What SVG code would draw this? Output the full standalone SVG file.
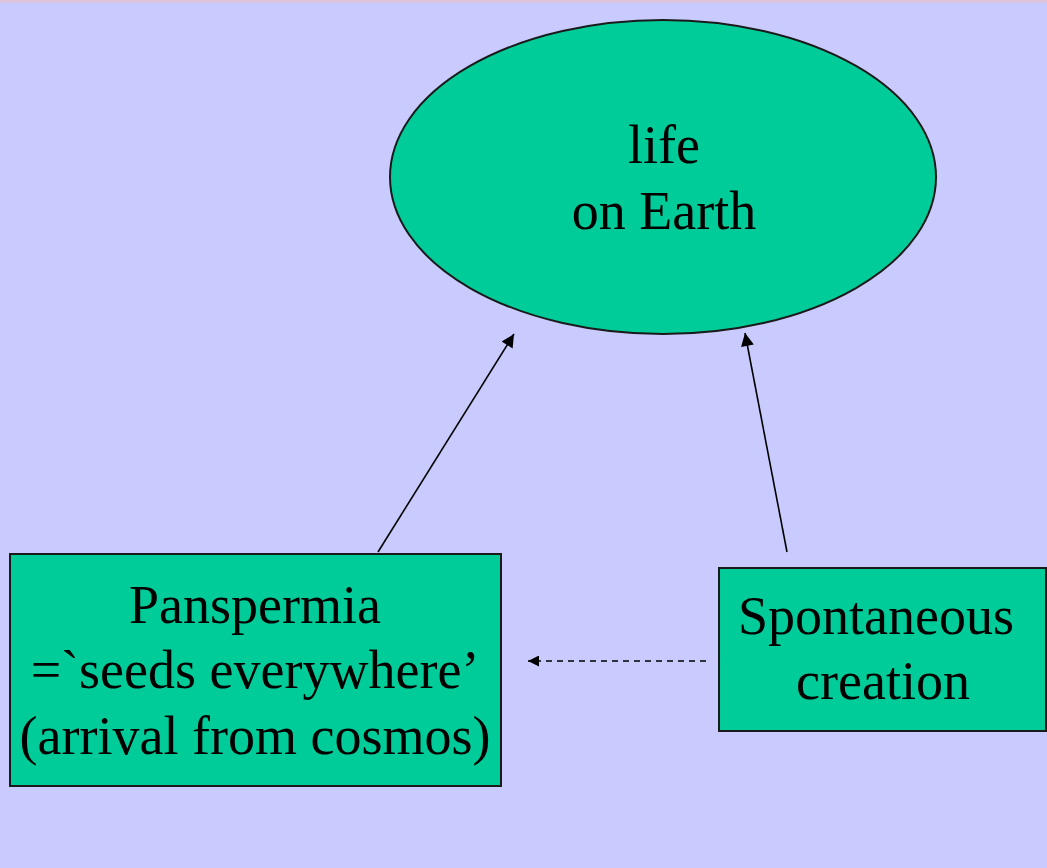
<svg xmlns="http://www.w3.org/2000/svg" width="1047" height="868" viewBox="0 0 1047 868">
<style>
.node{fill:#00CC99;stroke:#1a1a1a;stroke-width:2}
.t{font-family:"Liberation Serif","Times New Roman",serif;font-size:54px;fill:#000;text-anchor:middle}
.c{stroke:#000;stroke-width:1.6;fill:none}
</style>
<defs>
<marker id="ah" viewBox="0 0 10 10" refX="10" refY="5" markerWidth="11" markerHeight="11" markerUnits="userSpaceOnUse" orient="auto">
<path d="M0,0L10,5L0,10z" fill="#000"/>
</marker>
<marker id="ah2" viewBox="0 0 10 10" refX="10" refY="5" markerWidth="14" markerHeight="13" markerUnits="userSpaceOnUse" orient="auto">
<path d="M0,0L10,5L0,10z" fill="#000"/>
</marker>
</defs>
<rect x="0" y="0" width="1047" height="868" fill="#C9CBFE"/>
<rect x="0" y="0" width="1047" height="3" fill="#DCC3DE"/>
<g id="connectors">
<line class="c" x1="378" y1="552" x2="514" y2="334" marker-end="url(#ah2)"/>
<line class="c" x1="787" y1="552" x2="745" y2="333" marker-end="url(#ah2)"/>
<line class="c" x1="706" y1="661" x2="528" y2="661" stroke-dasharray="6,5" marker-end="url(#ah)"/>
</g>
<g id="life">
<ellipse class="node" cx="663" cy="177" rx="273" ry="157"/>
<text class="t" x="664" y="163">life</text>
<text class="t" x="664" y="229">on Earth</text>
</g>
<g id="panspermia">
<rect class="node" x="10" y="554" width="491" height="232"/>
<text class="t" x="255" y="623">Panspermia</text>
<text class="t" x="255" y="688">=`seeds everywhere’</text>
<text class="t" x="255" y="754">(arrival from cosmos)</text>
</g>
<g id="spontaneous">
<rect class="node" x="719" y="568" width="327" height="163"/>
<text class="t" x="876" y="634">Spontaneous</text>
<text class="t" x="883" y="699">creation</text>
</g>
</svg>
